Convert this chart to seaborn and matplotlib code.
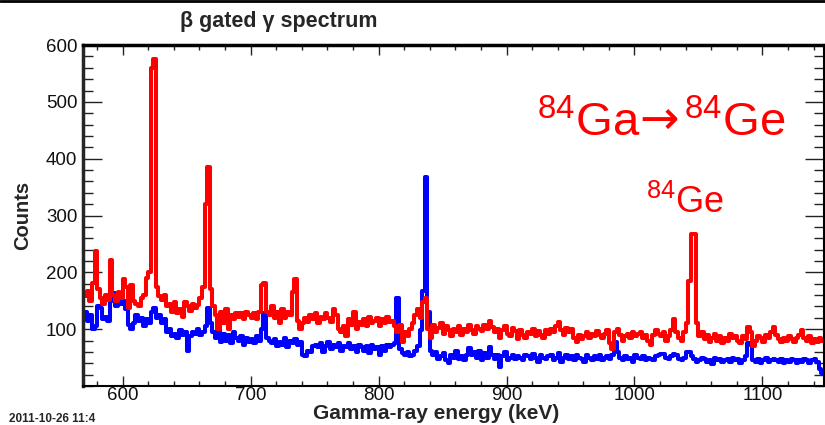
import numpy as np
import pandas as pd
import matplotlib
matplotlib.use('Agg')
import matplotlib.pyplot as plt
from matplotlib.ticker import MultipleLocator
import seaborn as sns

# bins: 2 keV wide, from 570 to 1148 keV
bin_lo = 570
bin_hi = 1148
bin_w = 2

# beta gated spectrum (red), counts per 2 keV bin, one row = 20 keV
red_counts = [
    158, 168, 150, 182, 238, 170, 155, 145, 160, 152,   # 570
    222, 160, 150, 165, 155, 188, 175, 138, 178, 150,   # 590
    145, 140, 155, 160, 190, 200, 560, 575, 175, 158,   # 610
    152, 160, 140, 145, 130, 148, 128, 135, 122, 148,   # 630
    140, 132, 145, 138, 142, 155, 175, 320, 385, 170,   # 650
    140, 125, 100, 130, 110, 135, 100, 125, 118, 128,   # 670
    122, 128, 118, 130, 125, 120, 128, 118, 130, 178,   # 690
    182, 130, 125, 140, 120, 130, 110, 135, 120, 130,   # 710
    125, 165, 188, 115, 100, 110, 120, 112, 125, 118,   # 730
    128, 110, 122, 118, 128, 120, 112, 136, 125, 100,   # 750
    95, 105, 88, 118, 108, 130, 100, 112, 108, 118,     # 770
    105, 122, 110, 115, 120, 105, 118, 110, 122, 112,   # 790
    115, 105, 95, 108, 78, 95, 88, 100, 110, 125,       # 810
    135, 120, 148, 155, 100, 85, 108, 95, 102, 110,     # 830
    92, 105, 98, 88, 100, 95, 105, 90, 100, 95,         # 850
    108, 98, 92, 105, 100, 96, 108, 100, 114, 104,      # 870
    95, 100, 85, 98, 105, 92, 88, 102, 96, 82,          # 890
    98, 90, 85, 95, 92, 100, 88, 96, 90, 85,            # 910
    98, 92, 100, 95, 105, 112, 98, 90, 102, 95,         # 930
    100, 85, 78, 90, 82, 88, 95, 85, 92, 88,            # 950
    96, 90, 85, 92, 98, 75, 65, 95, 100, 90,            # 970
    80, 88, 92, 85, 95, 88, 92, 95, 85, 90,             # 990
    80, 72, 90, 98, 92, 88, 95, 80, 88, 98,             # 1010
    118, 95, 85, 80, 95, 110, 185, 268, 268, 110,       # 1030
    88, 95, 82, 90, 78, 85, 92, 80, 88, 75,             # 1050
    85, 80, 92, 85, 88, 80, 75, 88, 82, 104,            # 1070
    95, 70, 80, 88, 85, 78, 90, 85, 95, 104,            # 1090
    90, 82, 78, 85, 80, 88, 82, 78, 85, 90,             # 1110
    98, 85, 80, 88, 75, 82, 78, 85, 80,                 # 1130
]

# second spectrum (blue)
blue_counts = [
    130, 115, 125, 100, 105, 140, 138, 118, 122, 115,   # 570
    150, 163, 140, 158, 145, 150, 135, 108, 100, 110,   # 590
    125, 115, 120, 105, 118, 110, 130, 137, 120, 125,   # 610
    110, 118, 95, 100, 88, 92, 85, 98, 90, 95,          # 630
    62, 88, 95, 92, 100, 90, 95, 105, 138, 110,         # 650
    95, 85, 100, 78, 92, 80, 90, 75, 95, 85,            # 670
    80, 88, 72, 85, 78, 82, 75, 88, 80, 100,            # 690
    128, 85, 80, 75, 82, 70, 78, 72, 85, 68,            # 710
    80, 75, 82, 72, 78, 55, 52, 62, 60, 70,             # 730
    72, 68, 75, 60, 70, 78, 65, 72, 68, 75,             # 750
    62, 70, 68, 75, 65, 70, 60, 72, 68, 62,             # 770
    70, 58, 72, 65, 68, 55, 70, 62, 72, 68,             # 790
    72, 75, 154, 65, 58, 55, 60, 52, 55, 62,            # 810
    70, 98, 168, 368, 130, 62, 55, 60, 48, 52,          # 830
    58, 45, 40, 55, 50, 62, 48, 52, 45, 55,             # 850
    66, 55, 60, 50, 62, 45, 58, 50, 69, 55,             # 870
    48, 55, 34, 52, 60, 45, 50, 55, 48, 52,             # 890
    50, 45, 55, 52, 48, 56, 50, 42, 55, 50,             # 910
    48, 52, 55, 45, 50, 58, 42, 50, 55, 48,             # 930
    52, 45, 55, 50, 48, 42, 55, 50, 45, 52,             # 950
    48, 55, 45, 50, 52, 48, 55, 78, 60, 50,             # 970
    45, 52, 48, 50, 42, 55, 50, 48, 52, 45,             # 990
    50, 48, 45, 52, 55, 57, 57, 50, 48, 52,             # 1010
    57, 55, 48, 45, 50, 60, 60, 52, 48, 42,             # 1030
    45, 50, 48, 42, 45, 38, 50, 45, 48, 42,             # 1050
    45, 48, 42, 50, 45, 48, 40, 45, 52, 75,             # 1070
    72, 45, 42, 48, 40, 45, 50, 42, 45, 48,             # 1090
    45, 42, 48, 40, 45, 42, 48, 45, 40, 45,             # 1110
    42, 48, 45, 40, 45, 48, 42, 30, 22,                 # 1130
]

x_ticks = [600, 700, 800, 900, 1000, 1100]
y_ticks = [100, 200, 300, 400, 500, 600]

centers = np.arange(bin_lo, bin_hi, bin_w) + bin_w / 2
spec = pd.DataFrame({'energy': centers, 'red': red_counts, 'blue': blue_counts})

sns.set_style('ticks')
plt.rcParams['font.family'] = ['Liberation Sans', 'DejaVu Sans']
plt.rcParams['mathtext.fontset'] = 'custom'
plt.rcParams['mathtext.rm'] = 'Liberation Sans'

fig = plt.figure(figsize=(8.25, 4.25), dpi=100)
ax = fig.add_axes([0.1006, 0.0918, 0.898, 0.8022])

# blue first, red drawn on top
for col, colour in [('blue', '#0000ff'), ('red', '#ff0000')]:
    sns.histplot(data=spec, x='energy', weights=col, binwidth=bin_w,
                 binrange=(bin_lo, bin_hi), element='step', fill=False,
                 color=colour, linewidth=2.9, ax=ax)

ax.set_xlim(569, 1148)
ax.set_ylim(0, 600)
ax.set_xticks(x_ticks)
ax.set_yticks(y_ticks)
ax.xaxis.set_minor_locator(MultipleLocator(20))
ax.yaxis.set_minor_locator(MultipleLocator(20))
ax.tick_params(axis='both', which='both', direction='in', top=True, right=True,
               labelsize=13.5, color='#222222', width=1, labelcolor='#111111')
ax.tick_params(axis='x', which='major', length=7, pad=1)
ax.tick_params(axis='x', which='minor', length=3.5)
ax.tick_params(axis='y', which='major', length=14, pad=4)
ax.tick_params(axis='y', which='minor', length=7)

for side in ['top', 'right', 'bottom']:
    ax.spines[side].set_linewidth(1.5)
    ax.spines[side].set_color('black')
ax.spines['left'].set_linewidth(2.5)
ax.spines['top'].set_linewidth(2.5)

ax.set_xlabel('Gamma-ray energy (keV)', fontsize=15, fontweight='bold')
ax.xaxis.set_label_coords((436 - 83) / 741, -0.054)
ax.set_ylabel('Counts', fontsize=14.5, fontweight='bold', labelpad=10)

# reaction label, split so the arrow can come from DejaVu Sans
ax.text(924, 440, r'$^{84}$Ga', color='#ff0000', fontsize=34,
        va='baseline', ha='left')
ax.text(1019, 444, '→', color='#ff0000', fontsize=34, family='DejaVu Sans',
        va='baseline', ha='center')
ax.text(1039, 440, r'$^{84}$Ge', color='#ff0000', fontsize=34,
        va='baseline', ha='left')
ax.text(1009, 305, r'$^{84}$Ge', color='#ff0000', fontsize=26,
        va='baseline', ha='left')

fig.text(180 / 825, 1 - 27 / 425, 'β gated γ spectrum', fontsize=15.5,
         fontweight='bold', ha='left', va='baseline')
fig.text(9 / 825, 3 / 425, '2011-10-26 11:4', fontsize=8.5, fontweight='bold',
         ha='left', va='baseline')
fig.add_artist(plt.Line2D([0, 1], [0.998, 0.998], color='black', linewidth=2,
                          transform=fig.transFigure))

fig.savefig('out.png', dpi=100)
